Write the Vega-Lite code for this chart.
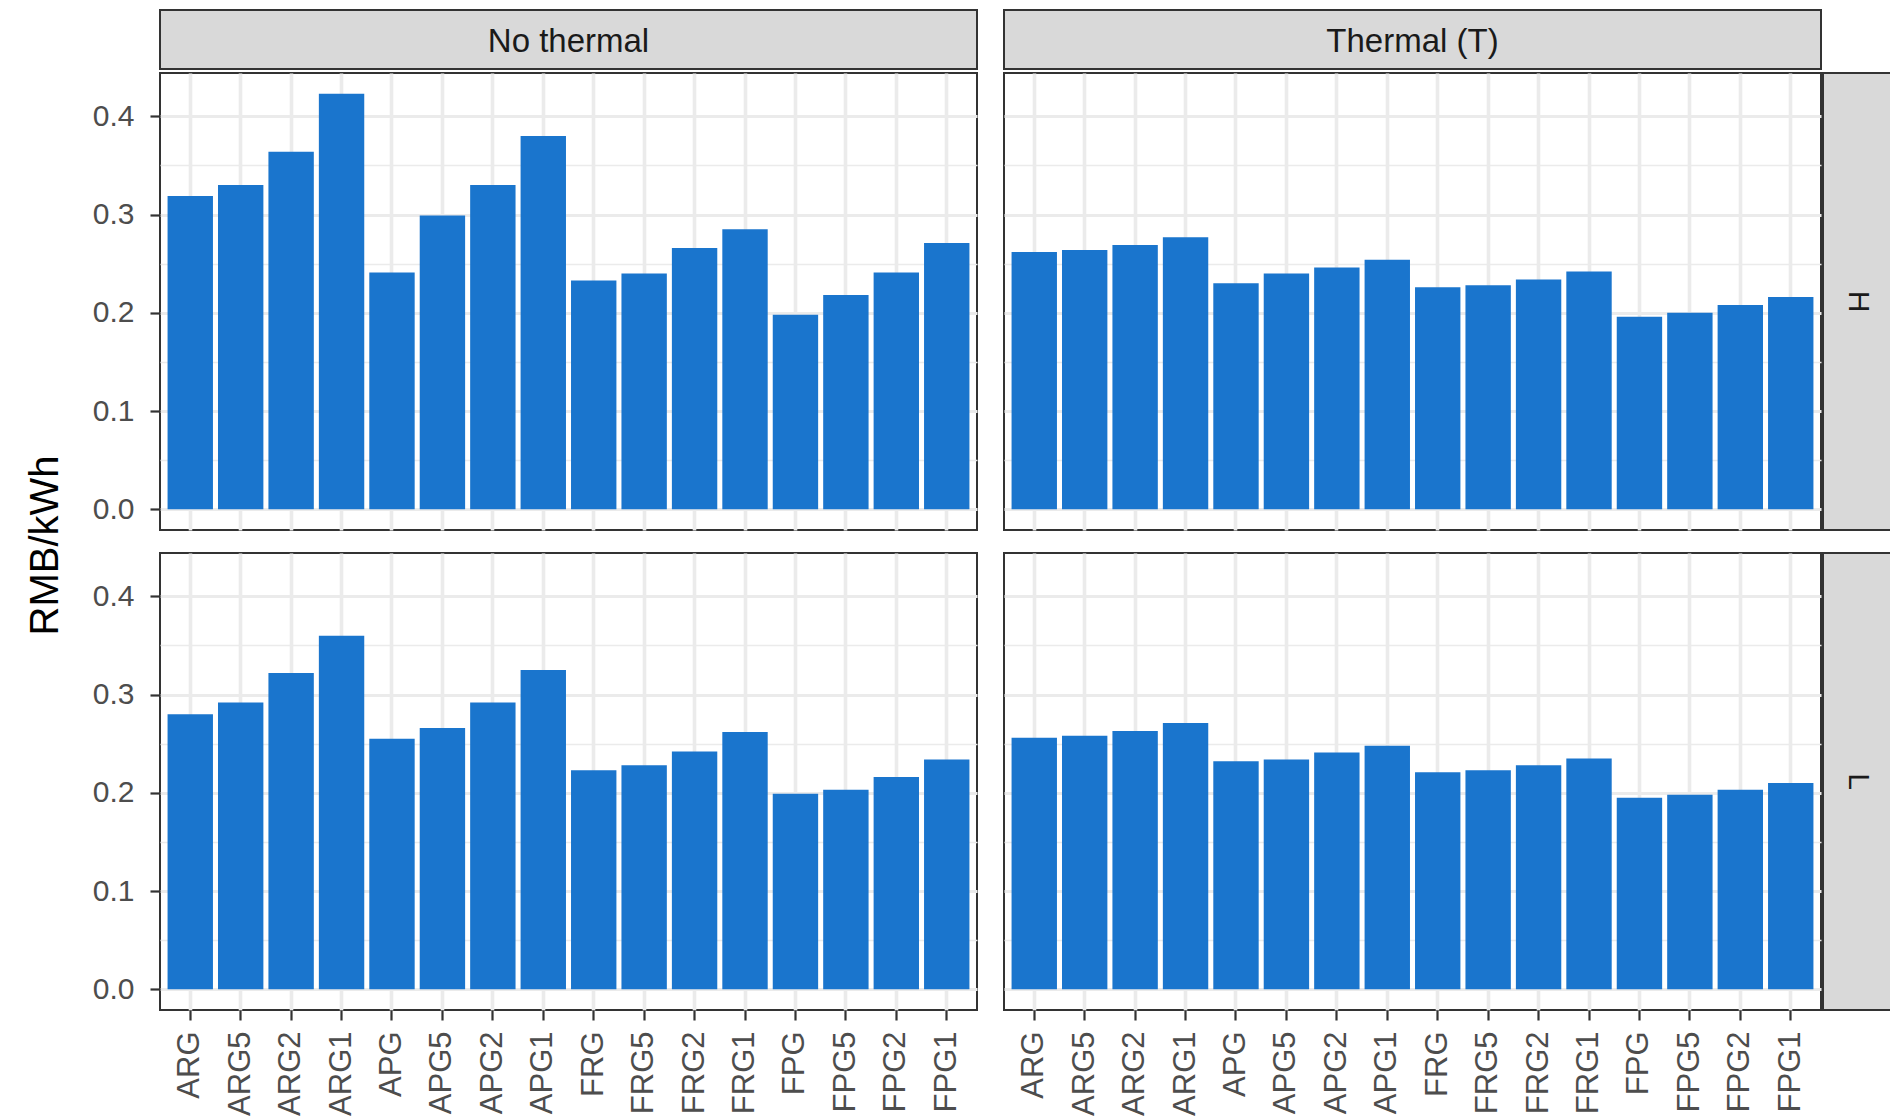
{
  "$schema": "https://vega.github.io/schema/vega-lite/v6.json",
  "padding": {"left": 26, "top": 4, "right": 0, "bottom": 0},
  "background": "white",
  "title": {"text": "RMB/kWh", "orient": "left", "anchor": "middle", "fontSize": 40, "fontWeight": "normal", "color": "#000000", "offset": 25, "dx": 15},
  "config": {"font": "Liberation Sans"},
  "datasets": {
    "cost": [
      {"scheme": "ARG", "thermal": "No thermal", "level": "H", "cost": 0.319},
      {"scheme": "ARG5", "thermal": "No thermal", "level": "H", "cost": 0.330},
      {"scheme": "ARG2", "thermal": "No thermal", "level": "H", "cost": 0.364},
      {"scheme": "ARG1", "thermal": "No thermal", "level": "H", "cost": 0.423},
      {"scheme": "APG", "thermal": "No thermal", "level": "H", "cost": 0.241},
      {"scheme": "APG5", "thermal": "No thermal", "level": "H", "cost": 0.299},
      {"scheme": "APG2", "thermal": "No thermal", "level": "H", "cost": 0.330},
      {"scheme": "APG1", "thermal": "No thermal", "level": "H", "cost": 0.380},
      {"scheme": "FRG", "thermal": "No thermal", "level": "H", "cost": 0.233},
      {"scheme": "FRG5", "thermal": "No thermal", "level": "H", "cost": 0.240},
      {"scheme": "FRG2", "thermal": "No thermal", "level": "H", "cost": 0.266},
      {"scheme": "FRG1", "thermal": "No thermal", "level": "H", "cost": 0.285},
      {"scheme": "FPG", "thermal": "No thermal", "level": "H", "cost": 0.198},
      {"scheme": "FPG5", "thermal": "No thermal", "level": "H", "cost": 0.218},
      {"scheme": "FPG2", "thermal": "No thermal", "level": "H", "cost": 0.241},
      {"scheme": "FPG1", "thermal": "No thermal", "level": "H", "cost": 0.271},
      {"scheme": "ARG", "thermal": "Thermal (T)", "level": "H", "cost": 0.262},
      {"scheme": "ARG5", "thermal": "Thermal (T)", "level": "H", "cost": 0.264},
      {"scheme": "ARG2", "thermal": "Thermal (T)", "level": "H", "cost": 0.269},
      {"scheme": "ARG1", "thermal": "Thermal (T)", "level": "H", "cost": 0.277},
      {"scheme": "APG", "thermal": "Thermal (T)", "level": "H", "cost": 0.230},
      {"scheme": "APG5", "thermal": "Thermal (T)", "level": "H", "cost": 0.240},
      {"scheme": "APG2", "thermal": "Thermal (T)", "level": "H", "cost": 0.246},
      {"scheme": "APG1", "thermal": "Thermal (T)", "level": "H", "cost": 0.254},
      {"scheme": "FRG", "thermal": "Thermal (T)", "level": "H", "cost": 0.226},
      {"scheme": "FRG5", "thermal": "Thermal (T)", "level": "H", "cost": 0.228},
      {"scheme": "FRG2", "thermal": "Thermal (T)", "level": "H", "cost": 0.234},
      {"scheme": "FRG1", "thermal": "Thermal (T)", "level": "H", "cost": 0.242},
      {"scheme": "FPG", "thermal": "Thermal (T)", "level": "H", "cost": 0.196},
      {"scheme": "FPG5", "thermal": "Thermal (T)", "level": "H", "cost": 0.200},
      {"scheme": "FPG2", "thermal": "Thermal (T)", "level": "H", "cost": 0.208},
      {"scheme": "FPG1", "thermal": "Thermal (T)", "level": "H", "cost": 0.216},
      {"scheme": "ARG", "thermal": "No thermal", "level": "L", "cost": 0.280},
      {"scheme": "ARG5", "thermal": "No thermal", "level": "L", "cost": 0.292},
      {"scheme": "ARG2", "thermal": "No thermal", "level": "L", "cost": 0.322},
      {"scheme": "ARG1", "thermal": "No thermal", "level": "L", "cost": 0.360},
      {"scheme": "APG", "thermal": "No thermal", "level": "L", "cost": 0.255},
      {"scheme": "APG5", "thermal": "No thermal", "level": "L", "cost": 0.266},
      {"scheme": "APG2", "thermal": "No thermal", "level": "L", "cost": 0.292},
      {"scheme": "APG1", "thermal": "No thermal", "level": "L", "cost": 0.325},
      {"scheme": "FRG", "thermal": "No thermal", "level": "L", "cost": 0.223},
      {"scheme": "FRG5", "thermal": "No thermal", "level": "L", "cost": 0.228},
      {"scheme": "FRG2", "thermal": "No thermal", "level": "L", "cost": 0.242},
      {"scheme": "FRG1", "thermal": "No thermal", "level": "L", "cost": 0.262},
      {"scheme": "FPG", "thermal": "No thermal", "level": "L", "cost": 0.199},
      {"scheme": "FPG5", "thermal": "No thermal", "level": "L", "cost": 0.203},
      {"scheme": "FPG2", "thermal": "No thermal", "level": "L", "cost": 0.216},
      {"scheme": "FPG1", "thermal": "No thermal", "level": "L", "cost": 0.234},
      {"scheme": "ARG", "thermal": "Thermal (T)", "level": "L", "cost": 0.256},
      {"scheme": "ARG5", "thermal": "Thermal (T)", "level": "L", "cost": 0.258},
      {"scheme": "ARG2", "thermal": "Thermal (T)", "level": "L", "cost": 0.263},
      {"scheme": "ARG1", "thermal": "Thermal (T)", "level": "L", "cost": 0.271},
      {"scheme": "APG", "thermal": "Thermal (T)", "level": "L", "cost": 0.232},
      {"scheme": "APG5", "thermal": "Thermal (T)", "level": "L", "cost": 0.234},
      {"scheme": "APG2", "thermal": "Thermal (T)", "level": "L", "cost": 0.241},
      {"scheme": "APG1", "thermal": "Thermal (T)", "level": "L", "cost": 0.248},
      {"scheme": "FRG", "thermal": "Thermal (T)", "level": "L", "cost": 0.221},
      {"scheme": "FRG5", "thermal": "Thermal (T)", "level": "L", "cost": 0.223},
      {"scheme": "FRG2", "thermal": "Thermal (T)", "level": "L", "cost": 0.228},
      {"scheme": "FRG1", "thermal": "Thermal (T)", "level": "L", "cost": 0.235},
      {"scheme": "FPG", "thermal": "Thermal (T)", "level": "L", "cost": 0.195},
      {"scheme": "FPG5", "thermal": "Thermal (T)", "level": "L", "cost": 0.198},
      {"scheme": "FPG2", "thermal": "Thermal (T)", "level": "L", "cost": 0.203},
      {"scheme": "FPG1", "thermal": "Thermal (T)", "level": "L", "cost": 0.210}
    ]
  },
  "columns": 3,
  "align": "each",
  "bounds": "full",
  "spacing": {"row": 2, "column": 0},
  "concat": [
    {
      "width": 817, "height": 59,
      "view": {"fill": "#d9d9d9", "stroke": "#333333", "strokeWidth": 2},
      "data": {"values": [{"label": "No thermal"}]},
      "mark": {"type": "text", "fontSize": 33, "color": "#1a1a1a", "baseline": "middle", "align": "center", "dy": 2},
      "encoding": {"text": {"field": "label", "type": "nominal"}}
    },
    {
      "width": 817, "height": 59,
      "view": {"fill": "#d9d9d9", "stroke": "#333333", "strokeWidth": 2},
      "data": {"values": [{"label": "Thermal (T)"}]},
      "mark": {"type": "text", "fontSize": 33, "color": "#1a1a1a", "baseline": "middle", "align": "center", "dy": 2},
      "encoding": {"text": {"field": "label", "type": "nominal"}}
    },
    {
      "width": 1, "height": 1,
      "view": {"fill": null, "stroke": null},
      "data": {"values": [{"label": ""}]},
      "mark": {"type": "text"},
      "encoding": {"text": {"field": "label", "type": "nominal"}}
    },
    {
      "width": 817, "height": 457,
      "view": {"fill": "white", "stroke": "#333333", "strokeWidth": 2},
      "data": {"name": "cost"},
      "transform": [{"filter": "datum.thermal === 'No thermal' && datum.level === 'H'"}],
      "mark": {"type": "bar", "color": "#1a75cd"},
      "encoding": {
        "x": {"field": "scheme", "type": "nominal",
          "scale": {"domain": ["ARG","ARG5","ARG2","ARG1","APG","APG5","APG2","APG1","FRG","FRG5","FRG2","FRG1","FPG","FPG5","FPG2","FPG1"], "paddingInner": 0.1, "paddingOuter": 0.15},
          "axis": {"title": null, "domain": false, "labels": false, "grid": true, "gridColor": "#ebebeb", "gridWidth": 3.6, "bandPosition": 0.5, "ticks": true, "tickColor": "transparent", "tickSize": 18}},
        "y": {"field": "cost", "type": "quantitative",
          "scale": {"domain": [-0.02115, 0.44415], "nice": false, "zero": false},
          "axis": {"title": null, "values": [0, 0.05, 0.1, 0.15, 0.2, 0.25, 0.3, 0.35, 0.4], "domain": false, "grid": true, "gridColor": "#ebebeb",
            "gridWidth": {"condition": {"test": "round(datum.value * 100) % 10 !== 0", "value": 1.5}, "value": 2.8},
            "tickColor": {"condition": {"test": "round(datum.value * 100) % 10 !== 0", "value": "transparent"}, "value": "#333333"},
            "tickWidth": 2.2, "tickSize": 10, "labelExpr": "round(datum.value * 100) % 10 === 0 ? format(datum.value, '.1f') : ''",
            "labelFontSize": 30, "labelColor": "#4d4d4d", "labelPadding": 16, "labelOverlap": false}},
        "y2": {"datum": 0}
      }
    },
    {
      "width": 817, "height": 457,
      "view": {"fill": "white", "stroke": "#333333", "strokeWidth": 2},
      "data": {"name": "cost"},
      "transform": [{"filter": "datum.thermal === 'Thermal (T)' && datum.level === 'H'"}],
      "mark": {"type": "bar", "color": "#1a75cd"},
      "encoding": {
        "x": {"field": "scheme", "type": "nominal",
          "scale": {"domain": ["ARG","ARG5","ARG2","ARG1","APG","APG5","APG2","APG1","FRG","FRG5","FRG2","FRG1","FPG","FPG5","FPG2","FPG1"], "paddingInner": 0.1, "paddingOuter": 0.15},
          "axis": {"title": null, "domain": false, "labels": false, "grid": true, "gridColor": "#ebebeb", "gridWidth": 3.6, "bandPosition": 0.5, "ticks": true, "tickColor": "transparent", "tickSize": 18}},
        "y": {"field": "cost", "type": "quantitative",
          "scale": {"domain": [-0.02115, 0.44415], "nice": false, "zero": false},
          "axis": {"title": null, "values": [0, 0.05, 0.1, 0.15, 0.2, 0.25, 0.3, 0.35, 0.4], "domain": false, "labels": false, "grid": true, "gridColor": "#ebebeb",
            "gridWidth": {"condition": {"test": "round(datum.value * 100) % 10 !== 0", "value": 1.5}, "value": 2.8},
            "ticks": true, "tickColor": "transparent", "tickSize": 24}},
        "y2": {"datum": 0}
      }
    },
    {
      "width": 69, "height": 457,
      "view": {"fill": "#d9d9d9", "stroke": "#333333", "strokeWidth": 2, "strokeDash": [69, 457, 600]},
      "data": {"values": [{"label": "H"}]},
      "mark": {"type": "text", "fontSize": 30, "color": "#1a1a1a", "baseline": "middle", "align": "center", "angle": 90},
      "encoding": {"text": {"field": "label", "type": "nominal"}}
    },
    {
      "width": 817, "height": 457,
      "view": {"fill": "white", "stroke": "#333333", "strokeWidth": 2},
      "data": {"name": "cost"},
      "transform": [{"filter": "datum.thermal === 'No thermal' && datum.level === 'L'"}],
      "mark": {"type": "bar", "color": "#1a75cd"},
      "encoding": {
        "x": {"field": "scheme", "type": "nominal",
          "scale": {"domain": ["ARG","ARG5","ARG2","ARG1","APG","APG5","APG2","APG1","FRG","FRG5","FRG2","FRG1","FPG","FPG5","FPG2","FPG1"], "paddingInner": 0.1, "paddingOuter": 0.15},
          "axis": {"title": null, "domain": false, "grid": true, "gridColor": "#ebebeb", "gridWidth": 3.6, "bandPosition": 0.5, "ticks": true, "tickColor": "#333333", "tickWidth": 2.2, "tickSize": 10,
            "labelAngle": -90, "labelAlign": "right", "labelBaseline": "middle", "labelFontSize": 31, "labelColor": "#4d4d4d", "labelPadding": 11, "labelOverlap": false}},
        "y": {"field": "cost", "type": "quantitative",
          "scale": {"domain": [-0.02115, 0.44415], "nice": false, "zero": false},
          "axis": {"title": null, "values": [0, 0.05, 0.1, 0.15, 0.2, 0.25, 0.3, 0.35, 0.4], "domain": false, "grid": true, "gridColor": "#ebebeb",
            "gridWidth": {"condition": {"test": "round(datum.value * 100) % 10 !== 0", "value": 1.5}, "value": 2.8},
            "tickColor": {"condition": {"test": "round(datum.value * 100) % 10 !== 0", "value": "transparent"}, "value": "#333333"},
            "tickWidth": 2.2, "tickSize": 10, "labelExpr": "round(datum.value * 100) % 10 === 0 ? format(datum.value, '.1f') : ''",
            "labelFontSize": 30, "labelColor": "#4d4d4d", "labelPadding": 16, "labelOverlap": false}},
        "y2": {"datum": 0}
      }
    },
    {
      "width": 817, "height": 457,
      "view": {"fill": "white", "stroke": "#333333", "strokeWidth": 2},
      "data": {"name": "cost"},
      "transform": [{"filter": "datum.thermal === 'Thermal (T)' && datum.level === 'L'"}],
      "mark": {"type": "bar", "color": "#1a75cd"},
      "encoding": {
        "x": {"field": "scheme", "type": "nominal",
          "scale": {"domain": ["ARG","ARG5","ARG2","ARG1","APG","APG5","APG2","APG1","FRG","FRG5","FRG2","FRG1","FPG","FPG5","FPG2","FPG1"], "paddingInner": 0.1, "paddingOuter": 0.15},
          "axis": {"title": null, "domain": false, "grid": true, "gridColor": "#ebebeb", "gridWidth": 3.6, "bandPosition": 0.5, "ticks": true, "tickColor": "#333333", "tickWidth": 2.2, "tickSize": 10,
            "labelAngle": -90, "labelAlign": "right", "labelBaseline": "middle", "labelFontSize": 31, "labelColor": "#4d4d4d", "labelPadding": 11, "labelOverlap": false}},
        "y": {"field": "cost", "type": "quantitative",
          "scale": {"domain": [-0.02115, 0.44415], "nice": false, "zero": false},
          "axis": {"title": null, "values": [0, 0.05, 0.1, 0.15, 0.2, 0.25, 0.3, 0.35, 0.4], "domain": false, "labels": false, "grid": true, "gridColor": "#ebebeb",
            "gridWidth": {"condition": {"test": "round(datum.value * 100) % 10 !== 0", "value": 1.5}, "value": 2.8},
            "ticks": true, "tickColor": "transparent", "tickSize": 24}},
        "y2": {"datum": 0}
      }
    },
    {
      "width": 69, "height": 457,
      "view": {"fill": "#d9d9d9", "stroke": "#333333", "strokeWidth": 2, "strokeDash": [69, 457, 600]},
      "data": {"values": [{"label": "L"}]},
      "mark": {"type": "text", "fontSize": 30, "color": "#1a1a1a", "baseline": "middle", "align": "center", "angle": 90},
      "encoding": {"text": {"field": "label", "type": "nominal"}}
    }
  ]
}
